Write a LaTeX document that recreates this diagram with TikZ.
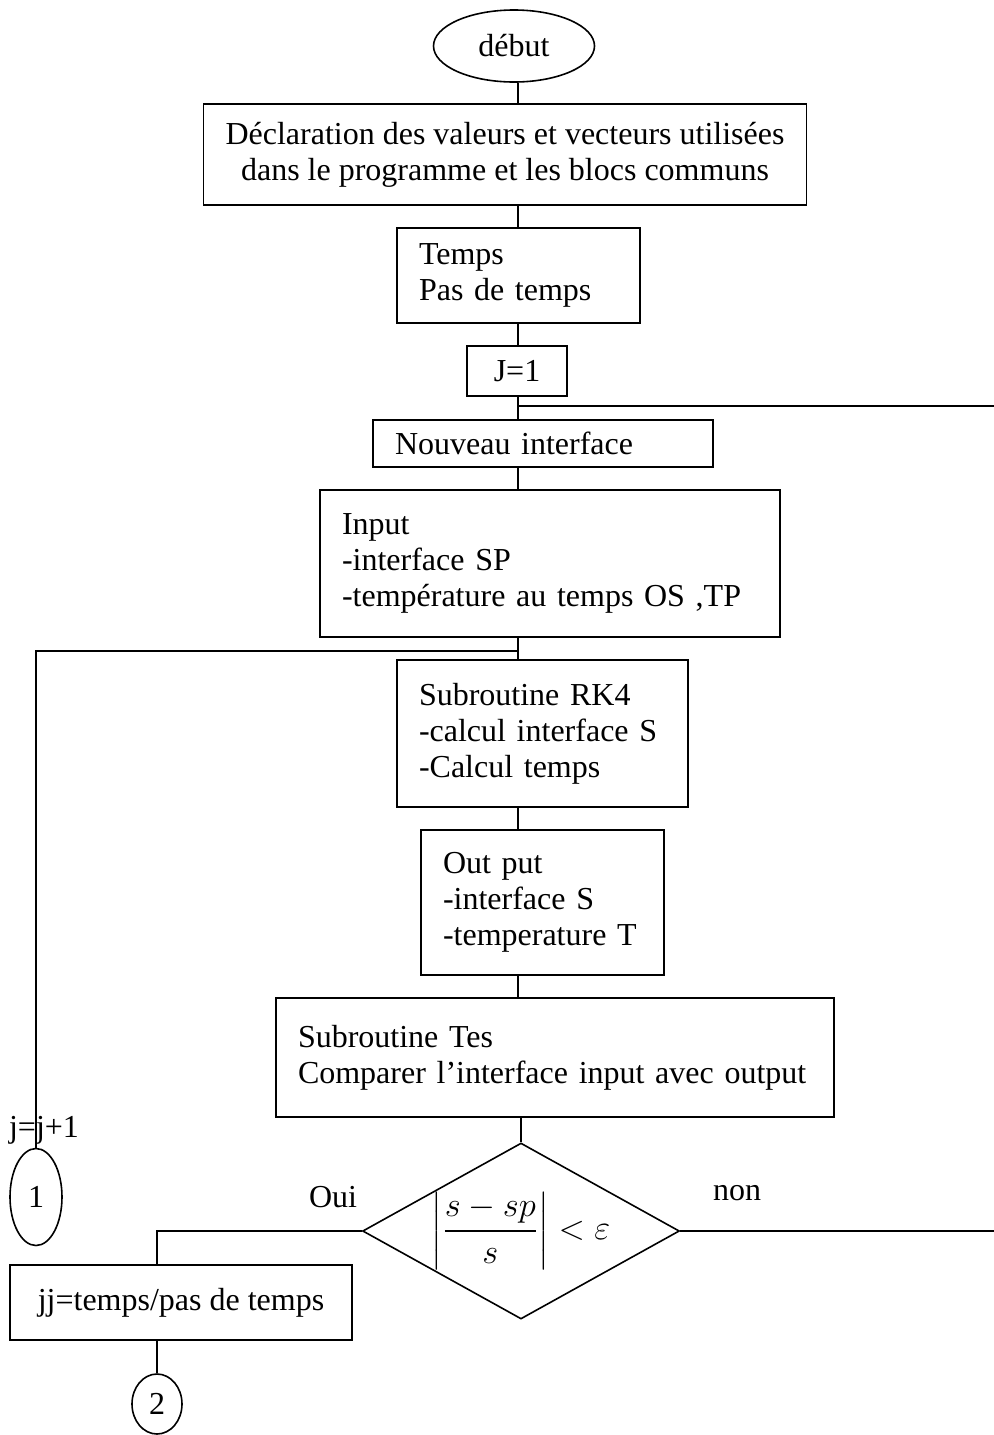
\documentclass[tikz,border=0pt]{standalone}
\usepackage{amsmath,amssymb}
\usepackage{fontspec}
\setmainfont{Liberation Serif}
\usetikzlibrary{shapes.geometric}

\begin{document}
\begin{tikzpicture}[
    x=0.5pt, y=-0.5pt,
    font=\fontsize{16}{18}\selectfont,
    box/.style={rectangle, draw, line width=0.8pt, inner xsep=11pt,
                inner ysep=0pt, align=left},
    cbox/.style={box, align=center},
    term/.style={ellipse, draw, line width=0.8pt, inner sep=0pt},
    test/.style={diamond, draw, line width=0.8pt, inner sep=0pt, shape aspect=1.8},
    wire/.style={line width=0.8pt},
    lbl/.style={inner sep=0pt}
  ]
  \useasboundingbox (0,0) rectangle (994,1435);
  \coordinate (sp) at (518,0);

  \node[term, minimum width=80.5pt, minimum height=36pt] (debut) at (514,46) {début};
  \node[cbox, minimum width=300pt, minimum height=50.5pt] (decl) at (505,154.5)
    {Déclaration des valeurs et vecteurs utilisées\\dans le programme et les blocs communs};
  \node[box, text width=99.5pt, minimum height=47.5pt] (temps) at (518.5,275.5) {Temps\\Pas de temps};
  \node[cbox, inner xsep=0pt, minimum width=50pt, minimum height=25pt] (init) at (517,371) {J=1};
  \node[box, text width=148pt, minimum height=23.5pt] (nouv) at (543,443.5) {Nouveau interface};
  \node[box, text width=208pt, minimum height=73.5pt] (input) at (550,563.5)
    {Input\\-interface SP\\-température au temps OS ,TP};
  \node[box, text width=123.5pt, minimum height=73.5pt] (rk) at (542.5,733.5)
    {Subroutine RK4\\-calcul interface S\\-Calcul temps};
  \node[box, text width=99.5pt, minimum height=72.5pt] (outp) at (542.5,902.5)
    {Out put\\-interface S\\-temperature T};
  \node[box, text width=257pt, minimum height=59.5pt] (tes) at (555,1057.5)
    {Subroutine Tes\\Comparer l'interface input avec output\\[10pt]};
  \node[test, minimum width=155pt, minimum height=86pt] (dec) at (521,1231)
    {$\left|\dfrac{s-sp}{s}\right| < \varepsilon$};
  \node[cbox, minimum width=171pt, minimum height=37.5pt] (jj) at (181,1302.5) {jj=temps/pas de temps};
  \node[term, minimum width=26pt, minimum height=48.5pt] (c1) at (36,1197) {1};
  \node[term, minimum width=25pt, minimum height=30pt] (c2) at (157,1404) {2};

  \node[lbl] (incr) at (44,1130) {j=j+1};
  \node[lbl] (oui) at (333,1197) {Oui};
  \node[lbl] (non) at (737,1193) {non};

  \foreach \a/\b in {debut/decl, decl/temps, temps/init, init/nouv, nouv/input, input/rk, rk/outp, outp/tes}
    \draw[wire] (sp |- \a.south) -- (sp |- \b.north);
  \draw[wire] (dec.north |- tes.south) -- (dec.north);

  \coordinate (rtop) at (994,406);
  \coordinate (ltop) at (518,651);
  \draw[wire] (sp |- rtop) -- (rtop);
  \draw[wire] (ltop) -| (c1.north);
  \draw[wire] (dec.west) -| (c2 |- jj.north);
  \draw[wire] (c2 |- jj.south) -- (c2.north);
  \draw[wire] (dec.east) -- (dec.east -| rtop);
\end{tikzpicture}
\end{document}
